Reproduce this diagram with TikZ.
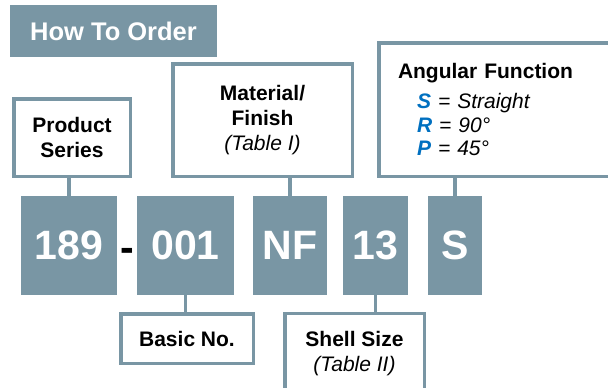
\documentclass[tikz,border=0pt]{standalone}
\usepackage{fontspec}
\setmainfont{Liberation Sans}
\usepackage{xcolor}
\usepackage{tikz}
\usetikzlibrary{positioning}

\definecolor{slate}{RGB}{121,150,164}
\definecolor{codeblue}{RGB}{0,112,192}

\begin{document}
\begin{tikzpicture}[x=1pt, y=-1pt,
    codebox/.style={rectangle, fill=slate, text=white, minimum height=99pt, inner sep=0pt, font=\fontsize{41}{41}\selectfont\bfseries},
    labelbox/.style={rectangle, draw=slate, line width=3.5pt, fill=white, align=center, inner sep=0pt, font=\fontsize{21}{25}\selectfont\bfseries},
    link/.style={draw=slate, line width=3.5pt}]
    \useasboundingbox (0,0) rectangle (608,388);

    \node (title) [rectangle, fill=slate, text=white, minimum width=207pt, minimum height=52pt, font=\fontsize{25.5}{25.5}\selectfont\bfseries] at (113.5,31) {How To Order};

    % part number blocks
    \node (series) [codebox, minimum width=96pt] at (69,245.5) {189};
    \node (basic) [codebox, minimum width=97pt] at (185.5,245.5) {001};
    \node (finish) [codebox, minimum width=74pt] at (290,245.5) {NF};
    \node (shell) [codebox, minimum width=65pt] at (375.5,245.5) {13};
    \node (angle) [codebox, minimum width=54pt] at (455,245.5) {S};
    \node (dash) [anchor=base, font=\fontsize{41}{41}\selectfont\bfseries] at (127,261) {-};

    % description boxes
    \node (product) [labelbox, minimum width=116.5pt, minimum height=77.5pt] at (72,137.5) {Product\\Series};
    \node (material) [labelbox, minimum width=179.5pt, minimum height=112.5pt] at (262.5,120) {Material/\\Finish\\{\mdseries\itshape (Table I)}};
    \node (angular) [labelbox, align=left, text width=201.5pt, inner xsep=19.25pt, minimum height=133.5pt, font=\fontsize{21}{23.5}\selectfont\bfseries] at (498.75,109.5) {Angular Function\\[6.5pt]
        \hspace*{19pt}{\itshape\textcolor{codeblue}{S} \mdseries = Straight}\\
        \hspace*{19pt}{\itshape\textcolor{codeblue}{R} \mdseries = 90°}\\
        \hspace*{19pt}{\itshape\textcolor{codeblue}{P} \mdseries = 45°}};
    \node (basicno) [labelbox, minimum width=132.5pt, minimum height=49.5pt] at (187,338.5) {Basic No.};
    \node (shellsize) [labelbox, minimum width=139.5pt, minimum height=81pt] at (354.5,354) {Shell Size\\{\mdseries\itshape (Table II)}};

    \draw [link] (series.north) -- (series.north |- product.south);
    \draw [link] (finish.north) -- (finish.north |- material.south);
    \draw [link] (angle.north) -- (angle.north |- angular.south);
    \draw [link] (basic.south) -- (basic.south |- basicno.north);
    \draw [link] (shell.south) -- (shell.south |- shellsize.north);
\end{tikzpicture}
\end{document}
